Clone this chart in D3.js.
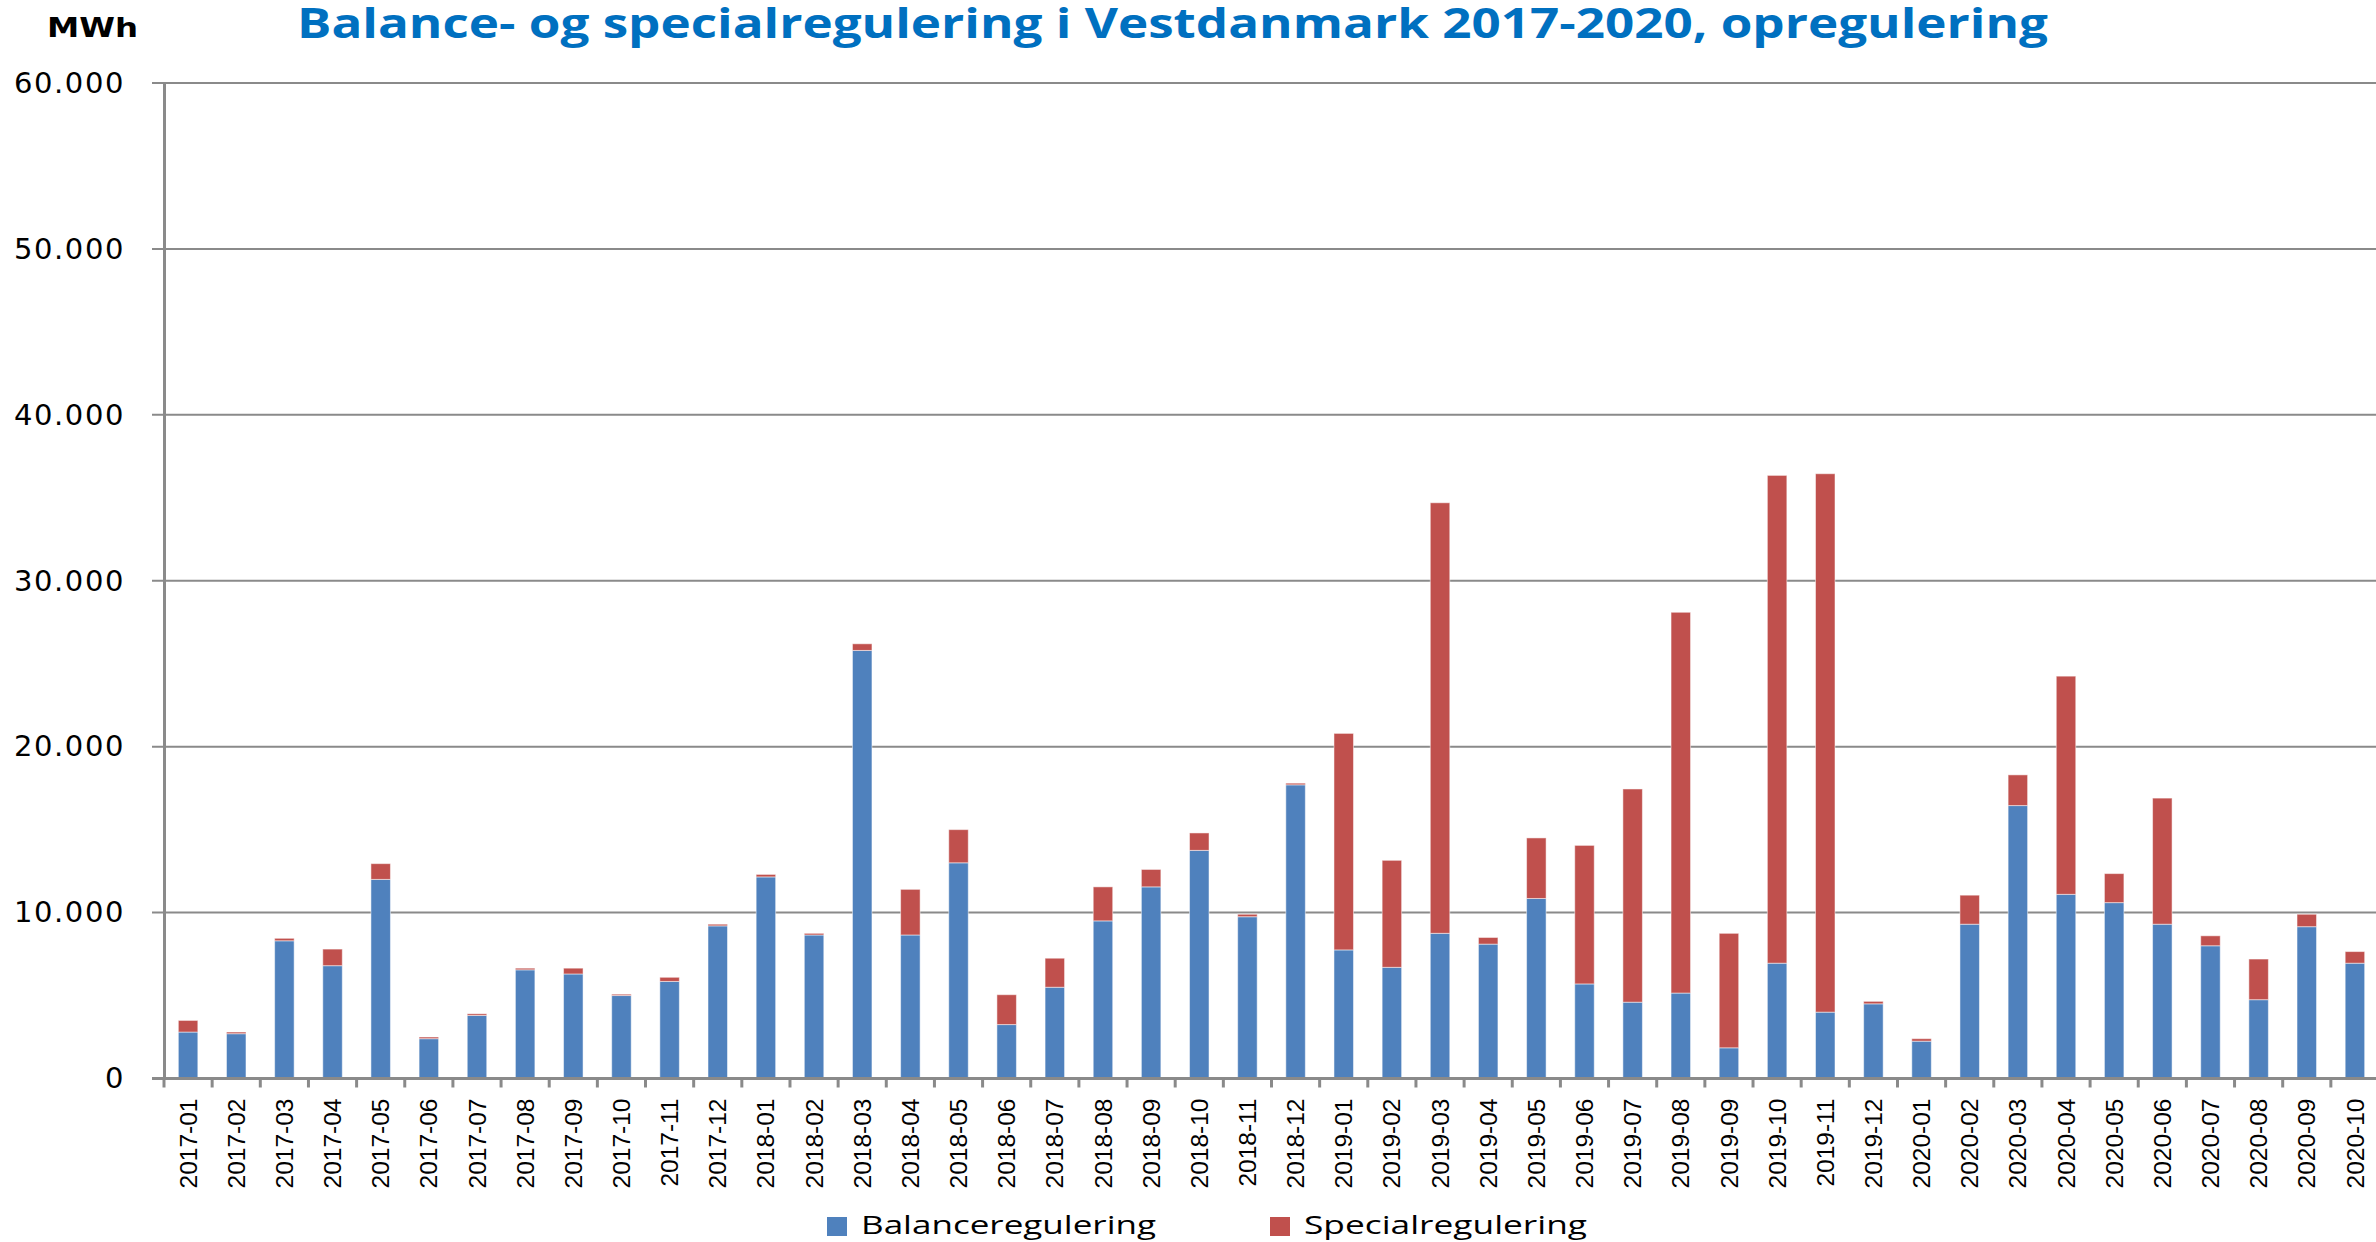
<!DOCTYPE html>
<html>
<head>
	<title>Balance- og specialregulering i Vestdanmark 2017-2020</title>
	<script src="https://cdn.jsdelivr.net/npm/d3@7"></script>
	<style>
		body { margin: 0; background: #fff; }
	</style>
</head>
<body>
<div id="content"></div>

<script type="text/javascript">
	var months = [
		'2017-01','2017-02','2017-03','2017-04','2017-05','2017-06','2017-07','2017-08','2017-09','2017-10','2017-11','2017-12',
		'2018-01','2018-02','2018-03','2018-04','2018-05','2018-06','2018-07','2018-08','2018-09','2018-10','2018-11','2018-12',
		'2019-01','2019-02','2019-03','2019-04','2019-05','2019-06','2019-07','2019-08','2019-09','2019-10','2019-11','2019-12',
		'2020-01','2020-02','2020-03','2020-04','2020-05','2020-06','2020-07','2020-08','2020-09','2020-10'
	];

	// MWh
	var balance = [
		2800, 2700, 8300, 6800, 12000, 2400, 3800, 6550, 6300, 5000, 5850, 9200,
		12150, 8650, 25800, 8650, 13000, 3250, 5500, 9500, 11550, 13750, 9750, 17700,
		7750, 6700, 8750, 8100, 10850, 5700, 4600, 5150, 1850, 6950, 4000, 4500,
		2250, 9300, 16450, 11100, 10600, 9300, 8000, 4750, 9150, 6950
	];
	var special = [
		700, 100, 150, 1000, 950, 100, 100, 100, 350, 80, 250, 100,
		150, 100, 400, 2750, 2000, 1800, 1750, 2050, 1050, 1050, 150, 100,
		13050, 6450, 25950, 400, 3650, 8350, 12850, 22950, 6900, 29400, 32450, 150,
		150, 1750, 1850, 13150, 1750, 7600, 600, 2450, 750, 700
	];

	var seriesNames = ['Balanceregulering', 'Specialregulering'];
	var colors = ['#4F81BD', '#C0504D'];
	var yTicks = [0, 10000, 20000, 30000, 40000, 50000, 60000];

	var W = 2376, H = 1242;
	var plotLeft = 164, plotRight = 2379, plotTop = 83, plotBottom = 1078.5;

	var rows = months.map((m, i) => ({ month: m, Balanceregulering: balance[i], Specialregulering: special[i] }));
	var stacked = d3.stack().keys(seriesNames)(rows);

	var svg = d3.select('#content')
		.append('svg')
		.attr('width', W)
		.attr('height', H);

	var x = d3.scaleBand()
		.domain(months)
		.range([plotLeft, plotRight])
		.paddingInner(0.595)
		.paddingOuter(0.2975);

	var y = d3.scaleLinear()
		.domain([0, 60000])
		.range([plotBottom, plotTop]);

	var fmt = d3.formatLocale({ decimal: ',', thousands: '.', grouping: [3], currency: ['', ''] }).format(',');

	// gridlines
	svg.append('g')
		.selectAll('line')
		.data(yTicks)
		.enter().append('line')
		.attr('x1', plotLeft - 12)
		.attr('x2', W)
		.attr('y1', d => y(d))
		.attr('y2', d => y(d))
		.attr('stroke', '#8a8a8a')
		.attr('stroke-width', 2);

	// y axis
	var yAxis = svg.append('g')
		.attr('transform', 'translate(' + plotLeft + ',0)')
		.call(d3.axisLeft(y).tickValues(yTicks).tickFormat(fmt).tickSize(0).tickPadding(39));
	yAxis.select('.domain').attr('stroke', '#8a8a8a').attr('stroke-width', 3);
	yAxis.selectAll('text')
		.attr('font-family', 'DejaVu Sans')
		.attr('font-size', 29)
		.attr('letter-spacing', '1.6px')
		.attr('fill', '#000');

	// bars
	svg.append('g')
		.selectAll('g')
		.data(stacked)
		.enter().append('g')
		.attr('fill', (d, i) => colors[i])
		.selectAll('rect')
		.data(d => d)
		.enter().append('rect')
		.attr('x', d => x(d.data.month))
		.attr('width', x.bandwidth())
		.attr('y', d => y(d[1]))
		.attr('height', d => y(d[0]) - y(d[1]))
		.attr('stroke', '#ffffff')
		.attr('stroke-opacity', 0.5)
		.attr('stroke-width', 1);

	// x axis line and boundary ticks
	var bounds = d3.range(months.length + 1).map(i => plotLeft + i * x.step());
	svg.append('line')
		.attr('x1', plotLeft - 12)
		.attr('x2', W)
		.attr('y1', plotBottom)
		.attr('y2', plotBottom)
		.attr('stroke', '#8a8a8a')
		.attr('stroke-width', 3);
	svg.append('g')
		.selectAll('line')
		.data(bounds)
		.enter().append('line')
		.attr('x1', d => d)
		.attr('x2', d => d)
		.attr('y1', plotBottom)
		.attr('y2', plotBottom + 9)
		.attr('stroke', '#8a8a8a')
		.attr('stroke-width', 3);

	// month labels
	var xAxis = svg.append('g')
		.attr('transform', 'translate(0,' + plotBottom + ')')
		.call(d3.axisBottom(x).tickSize(0).tickPadding(0));
	xAxis.select('.domain').remove();
	xAxis.selectAll('text')
		.attr('font-family', 'Liberation Sans')
		.attr('font-size', 24.5)
		.attr('fill', '#000')
		.attr('text-anchor', 'end')
		.attr('dy', '0.35em')
		.attr('transform', 'translate(0,20) rotate(-90)');

	// title
	svg.append('text')
		.attr('x', 297)
		.attr('y', 38)
		.attr('font-family', 'Open Sans')
		.attr('font-weight', 'bold')
		.attr('font-size', 41)
		.attr('fill', '#0070C0')
		.attr('textLength', 1751)
		.attr('lengthAdjust', 'spacingAndGlyphs')
		.text('Balance- og specialregulering i Vestdanmark 2017-2020, opregulering');

	svg.append('text')
		.attr('x', 47)
		.attr('y', 37)
		.attr('font-family', 'DejaVu Sans')
		.attr('font-weight', 'bold')
		.attr('font-size', 27)
		.attr('fill', '#000')
		.attr('textLength', 91)
		.attr('lengthAdjust', 'spacingAndGlyphs')
		.text('MWh');

	// legend
	var legendX = [827, 1270];
	var legendW = [295, 283];
	var legend = svg.append('g')
		.selectAll('g')
		.data(seriesNames)
		.enter().append('g')
		.attr('transform', (d, i) => 'translate(' + legendX[i] + ',1217)');
	legend.append('rect')
		.attr('width', 20)
		.attr('height', 19)
		.attr('fill', (d, i) => colors[i]);
	legend.append('text')
		.attr('x', 34)
		.attr('y', 17)
		.attr('font-family', 'Open Sans')
		.attr('font-size', 25)
		.attr('fill', '#000')
		.attr('textLength', (d, i) => legendW[i])
		.attr('lengthAdjust', 'spacingAndGlyphs')
		.text(d => d);
</script>
</body>
</html>
